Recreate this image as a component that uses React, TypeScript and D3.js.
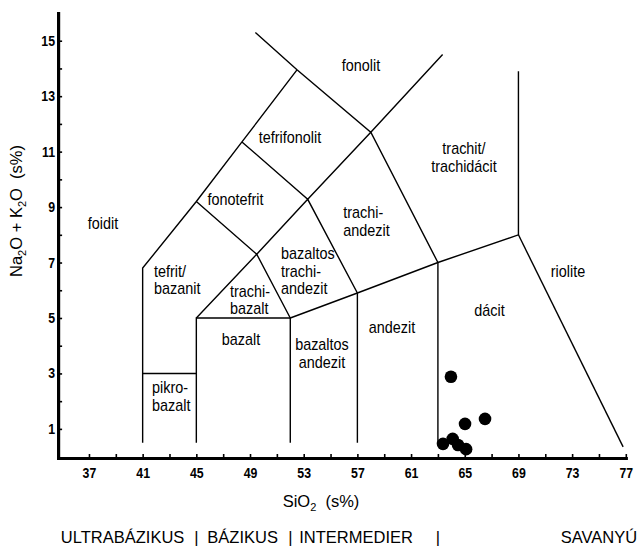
import React, { useEffect, useRef } from 'react';
import * as d3 from 'd3';

const W = 642;
const H = 550;
const FONT = 'Liberation Sans, Arial, Helvetica, sans-serif';

// TAS field boundaries (SiO2, Na2O+K2O)
const boundaries: [number, number][][] = [
  [[41, 0.5], [41, 6.8], [45, 9.2], [48.4, 11.35], [52.5, 13.95]],
  [[49.4, 15.3], [52.5, 13.95], [58, 11.7], [63.35, 14.5]],
  [[41, 3], [45, 3]],
  [[45, 0.5], [45, 5], [52, 5], [52, 0.5]],
  [[45, 5], [49.5, 7.3], [52, 5]],
  [[52, 5], [57, 5.9], [63, 7], [69, 8], [69, 13.9]],
  [[57, 0.5], [57, 5.9]],
  [[63, 0.5], [63, 7]],
  [[45, 9.2], [49.5, 7.3], [53.3, 9.28], [57, 5.9]],
  [[48.4, 11.35], [53.3, 9.28], [58, 11.7], [63, 7]],
  [[69, 8], [76.8, 0.35]],
];

// field names and where they sit (SiO2, alkali of first baseline)
const fieldNames: string[][] = [
  ['foidit'], ['tefrit/', 'bazanit'], ['pikro-', 'bazalt'], ['bazalt'],
  ['trachi-', 'bazalt'], ['bazaltos', 'trachi-', 'andezit'], ['fonotefrit'],
  ['tefrifonolit'], ['fonolit'], ['trachi-', 'andezit'], ['trachit/', 'trachidácit'],
  ['dácit'], ['riolite'], ['andezit'], ['bazaltos', 'andezit'],
];
const fieldSio2 = [38.05, 41.85, 41.7, 48.33, 47.51, 51.31, 47.92, 51.98, 57.27, 55.95, 64.94, 66.84, 72.69, 59.58, 54.36];
const fieldAlk = [8.2, 6.48, 2.29, 4.03, 5.76, 7.12, 9.07, 11.31, 13.92, 8.6, 10.91, 5.07, 6.48, 4.46, 3.84];
const fieldAnchor = ['middle', 'start', 'start', 'middle', 'start', 'start', 'middle', 'middle', 'middle', 'start', 'middle', 'middle', 'middle', 'middle', 'middle'];

// samples
const sampleSio2 = [63.97, 65.02, 66.51, 63.38, 64.1, 64.5, 65.1];
const sampleAlk = [2.88, 1.18, 1.36, 0.46, 0.64, 0.42, 0.27];

const xTicks = d3.range(37, 78, 2);
const yTicks = d3.range(1, 16, 1);

// rock classes along SiO2
const classNames = ['ULTRABÁZIKUS', 'BÁZIKUS', 'INTERMEDIER', 'SAVANYÚ'];
const classBreaks = [45, 52, 63];

const x = d3.scaleLinear().domain([34.7, 77]).range([58.1, 625.8]);
const y = d3.scaleLinear().domain([-0.05, 16]).range([458, 13]);

const line = d3.line<[number, number]>().x(d => x(d[0])).y(d => y(d[1]));

const Txt = ({ px, py, size = 16, sx = 0.9, anchor = 'middle', weight = 'normal', children }: any) => (
  <text transform={`translate(${px},${py}) scale(${sx},1)`} fontSize={size} textAnchor={anchor}
    fontWeight={weight} fontFamily={FONT} fill="#000">{children}</text>
);

export default function App() {
  const xRef = useRef<SVGGElement>(null);
  const yRef = useRef<SVGGElement>(null);

  useEffect(() => {
    const xa = d3.axisBottom(x).tickValues(xTicks).tickSizeInner(-4).tickSizeOuter(0).tickPadding(10)
      .tickFormat(d => ((+d - 37) % 4 === 0 ? String(d) : ''));
    const ya = d3.axisLeft(y).tickValues(yTicks).tickSizeInner(-4).tickSizeOuter(0).tickPadding(3.5)
      .tickFormat(d => (+d % 2 === 1 ? String(d) : ''));
    for (const [ref, ax] of [[xRef, xa], [yRef, ya]] as any) {
      const g = d3.select(ref.current);
      g.selectAll('*').remove();
      g.call(ax);
      g.select('.domain').attr('stroke-width', 3.2).attr('stroke-linecap', 'square');
      g.selectAll('.tick line').attr('stroke-width', 1.6);
      g.selectAll('.tick text').attr('font-family', FONT).attr('font-size', 14).attr('font-weight', 'bold')
        .attr('fill', '#000').attr('transform', 'scale(0.88,1)');
    }
  }, []);

  const lh = 17.5;
  return (
    <svg width={W} height={H} style={{ position: 'absolute', left: 0, top: 0, background: '#fff' }}>
      <g fill="none" stroke="#000" strokeWidth={1.4} strokeLinejoin="miter">
        {boundaries.map((b, i) => <path key={i} d={line(b) || ''} />)}
      </g>
      {fieldNames.map((lines, i) => lines.map((t, j) => (
        <Txt key={`${i}-${j}`} px={x(fieldSio2[i])} py={y(fieldAlk[i]) + j * lh} anchor={fieldAnchor[i]}>{t}</Txt>
      )))}
      {sampleSio2.map((s, i) => <circle key={i} cx={x(s)} cy={y(sampleAlk[i])} r={6.3} fill="#000" />)}
      <g ref={xRef} transform={`translate(0,${y(-0.05)})`} />
      <g ref={yRef} transform={`translate(${x(34.7)},0)`} />

      <text transform={`translate(22,211) rotate(-90)`} textAnchor="middle" fontFamily={FONT} fontSize={16.5}>
        Na<tspan fontSize={11} dy={4}>2</tspan><tspan dy={-4}>O + K</tspan><tspan fontSize={11} dy={4}>2</tspan>
        <tspan dy={-4}>O {'\u00A0'}(s%)</tspan>
      </text>
      <text transform={`translate(321,507)`} textAnchor="middle" fontFamily={FONT} fontSize={16.5}>
        SiO<tspan fontSize={11} dy={4}>2</tspan><tspan dy={-4}> {'\u00A0'}(s%)</tspan>
      </text>

      <Txt px={x(classBreaks[0]) - 12} py={543} size={16.5} sx={1} anchor="end">{classNames[0]}</Txt>
      <Txt px={x(classBreaks[0]) + 11} py={543} size={16.5} sx={1} anchor="start">{classNames[1]}</Txt>
      <Txt px={x(classBreaks[1]) + 9} py={543} size={16.5} sx={1} anchor="start">{classNames[2]}</Txt>
      <Txt px={599} py={543} size={16.5} sx={1}>{classNames[3]}</Txt>
      {classBreaks.map((b, i) => <Txt key={i} px={x(b)} py={543} size={16.5} sx={1}>|</Txt>)}
    </svg>
  );
}
